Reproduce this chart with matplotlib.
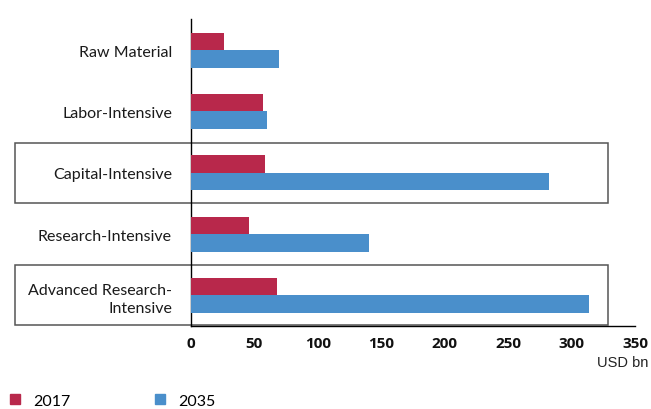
import matplotlib.pyplot as plt
import matplotlib.transforms as mtransforms
from matplotlib.patches import Rectangle
from matplotlib.lines import Line2D
import numpy as np

# data (USD bn)
categories = ["Raw Material", "Labor-Intensive", "Capital-Intensive",
              "Research-Intensive", "Advanced Research-\nIntensive"]
values_2017 = [26, 57, 58, 46, 68]
values_2035 = [69, 60, 282, 140, 314]
boxed = [2, 4]
x_ticks = [0, 50, 100, 150, 200, 250, 300, 350]

red = "#B8284B"
blue = "#4A8FCB"

fig = plt.figure(figsize=(6.51, 4.10), dpi=100)
ax = fig.add_axes([191/651, 1 - 327/410, 444/651, 306.5/410])

y = np.arange(len(categories))
h = 0.286
ax.barh(y - h/2, values_2017, height=h, color=red, zorder=3)
ax.barh(y + h/2, values_2035, height=h, color=blue, zorder=3)

ax.set_ylim(len(categories) - 0.5, -0.5)
ax.set_xlim(0, 350)
ax.set_yticks(y)
ax.set_yticklabels(categories, fontfamily="Lato", fontsize=11.5,
                   color="#1a1a1a", linespacing=1.35)
ax.set_xticks(x_ticks)
ax.set_xticklabels([str(t) for t in x_ticks], fontfamily="Open Sans",
                   fontweight="bold", fontsize=11, color="#111111")
ax.tick_params(axis="both", length=0)
ax.tick_params(axis="y", pad=13.7)
ax.tick_params(axis="x", pad=7)
for s in ["top", "right"]:
    ax.spines[s].set_visible(False)
for s in ["left", "bottom"]:
    ax.spines[s].set_color("black")
    ax.spines[s].set_linewidth(1.0)

# boxes around highlighted rows
trans = mtransforms.blended_transform_factory(fig.transFigure, ax.transData)
for i in boxed:
    r = Rectangle((14.7/651, i - 0.49), (607.7 - 14.7)/651, 0.98,
                  transform=trans, fill=False, edgecolor="#555555",
                  linewidth=1.1, clip_on=False, zorder=1)
    ax.add_patch(r)

fig.text(648/651, 1 - 363/410, "USD bn", ha="right", va="center",
         fontfamily="Liberation Sans", fontsize=10.5, color="#222222")

# legend
handles = [Line2D([], [], marker="s", linestyle="none", color=red, markersize=6.5),
           Line2D([], [], marker="s", linestyle="none", color=blue, markersize=6.5)]
fig.legend(handles, ["2017", "2035"], loc="center left",
           bbox_to_anchor=(0.003, 1 - 401.7/410), ncol=2, frameon=False,
           handlelength=1.0, handletextpad=0.65, columnspacing=5.1,
           prop={"family": "Lato", "size": 11.5}, borderaxespad=0, borderpad=0.3)

fig.savefig("out.png", dpi=100)
